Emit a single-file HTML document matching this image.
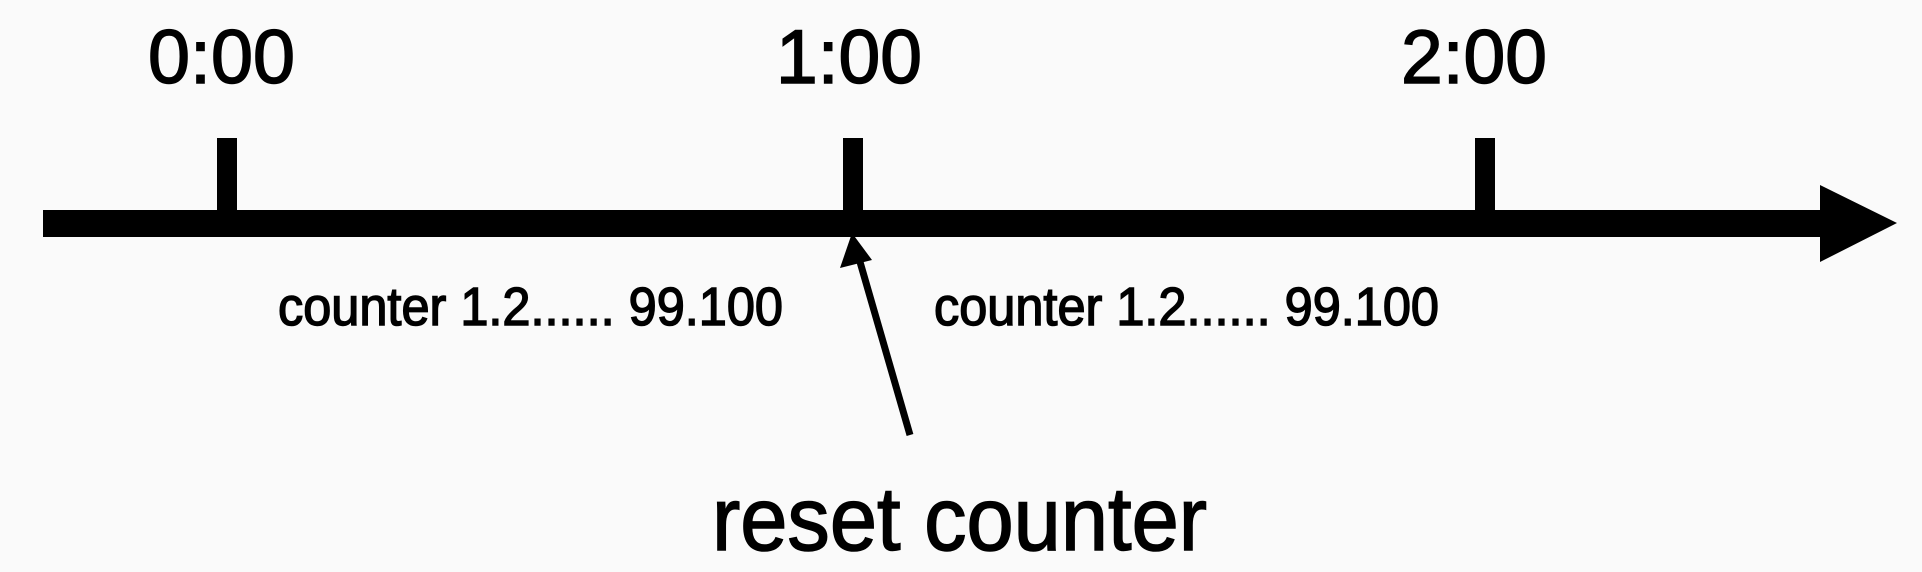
<!DOCTYPE html>
<html><head><style>html,body{margin:0;padding:0;background:#fafafa;}svg{display:block}</style></head>
<body>
<svg width="1922" height="572" viewBox="0 0 1922 572" xmlns="http://www.w3.org/2000/svg">
<rect width="1922" height="572" fill="#fafafa"/>
<g font-family="Liberation Sans, sans-serif" fill="#000" stroke="#000" stroke-width="1.5">
<text x="148" y="83" font-size="76" textLength="147" lengthAdjust="spacingAndGlyphs">0:00</text>
<text x="776" y="83" font-size="76" textLength="146" lengthAdjust="spacingAndGlyphs">1:00</text>
<text x="1401" y="83" font-size="76" textLength="146" lengthAdjust="spacingAndGlyphs">2:00</text>
<text x="278" y="325" font-size="54" textLength="505" lengthAdjust="spacingAndGlyphs">counter 1.2...... 99.100</text>
<text x="934" y="325" font-size="54" textLength="505" lengthAdjust="spacingAndGlyphs">counter 1.2...... 99.100</text>
<text x="712" y="550" font-size="90" textLength="495" lengthAdjust="spacingAndGlyphs">reset counter</text>
</g>
<rect x="43" y="210" width="1780" height="27" fill="#000"/>
<polygon points="1820,185 1897,223 1820,262" fill="#000"/>
<rect x="217" y="138" width="20" height="80" fill="#000"/>
<rect x="843" y="138" width="20" height="80" fill="#000"/>
<rect x="1475" y="138" width="20" height="80" fill="#000"/>
<line x1="910" y1="435" x2="858" y2="255" stroke="#000" stroke-width="7"/>
<polygon points="852,233 840,268 872,260" fill="#000"/>
</svg>
</body></html>
